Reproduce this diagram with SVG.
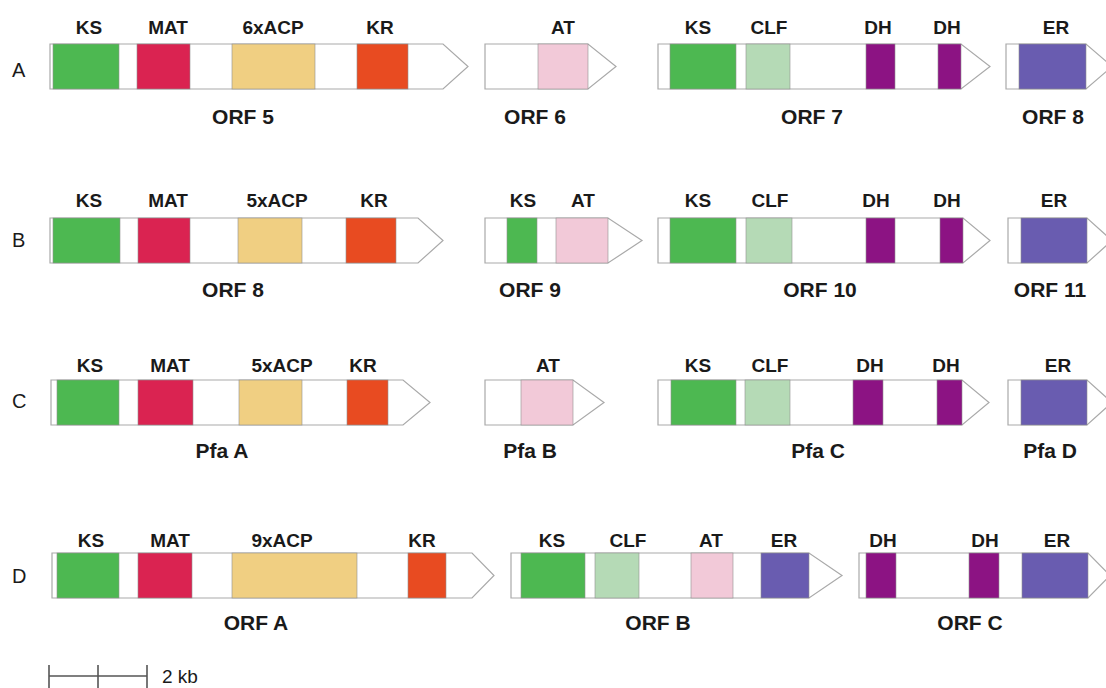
<svg xmlns="http://www.w3.org/2000/svg" width="1106" height="688" viewBox="0 0 1106 688">
  <style>
    .bg { fill: #ffffff; }
    .orf { fill: #ffffff; stroke: #a9a9a9; stroke-width: 1.2; stroke-linejoin: miter; }
    .dom { stroke: #8f8f8f; stroke-width: 0.6; }
    .ks { fill: #4db851; }
    .mat { fill: #da2351; }
    .acp { fill: #f0cf82; }
    .kr { fill: #e84b21; }
    .at { fill: #f2c9d8; }
    .clf { fill: #b5dab6; }
    .dh { fill: #8c1383; }
    .er { fill: #695cb0; }
    .lbl { font-family: "Liberation Sans", Arial, sans-serif; font-weight: bold; font-size: 19px; fill: #1a1a1a; text-anchor: middle; }
    .name { font-family: "Liberation Sans", Arial, sans-serif; font-weight: bold; font-size: 21px; fill: #1a1a1a; text-anchor: middle; }
    .row { font-family: "Liberation Sans", Arial, sans-serif; font-size: 20px; fill: #1a1a1a; }
    .scale { stroke: #555555; stroke-width: 1.6; fill: none; }
    .kb { font-family: "Liberation Sans", Arial, sans-serif; font-size: 19px; fill: #1a1a1a; }
  </style>
  <rect class="bg" x="0" y="0" width="1106" height="688"/>

  <!-- Row labels -->
  <g id="row-labels">
    <text class="row" x="12" y="77">A</text>
    <text class="row" x="12" y="247">B</text>
    <text class="row" x="12" y="408">C</text>
    <text class="row" x="12" y="583">D</text>
  </g>

  <!-- ===== Row A (box y 44..89) ===== -->
  <g id="orf5">
    <polygon class="orf" points="50,44 443,44 468,66.5 443,89 50,89"/>
    <rect class="dom ks" x="53" y="44" width="66" height="45"/>
    <rect class="dom mat" x="137" y="44" width="53" height="45"/>
    <rect class="dom acp" x="232" y="44" width="83" height="45"/>
    <rect class="dom kr" x="357" y="44" width="51" height="45"/>
    <text class="lbl" x="89" y="34">KS</text>
    <text class="lbl" x="168" y="34">MAT</text>
    <text class="lbl" x="273" y="34">6xACP</text>
    <text class="lbl" x="380" y="34">KR</text>
    <text class="name" x="243" y="124">ORF 5</text>
  </g>
  <g id="orf6">
    <polygon class="orf" points="485,44 588,44 616,66.5 588,89 485,89"/>
    <rect class="dom at" x="538" y="44" width="50" height="45"/>
    <text class="lbl" x="563" y="34">AT</text>
    <text class="name" x="535" y="124">ORF 6</text>
  </g>
  <g id="orf7">
    <polygon class="orf" points="658,44 961,44 990,66.5 961,89 658,89"/>
    <rect class="dom ks" x="670" y="44" width="66" height="45"/>
    <rect class="dom clf" x="746" y="44" width="44" height="45"/>
    <rect class="dom dh" x="866" y="44" width="29" height="45"/>
    <rect class="dom dh" x="938" y="44" width="23" height="45"/>
    <text class="lbl" x="698" y="34">KS</text>
    <text class="lbl" x="769" y="34">CLF</text>
    <text class="lbl" x="878" y="34">DH</text>
    <text class="lbl" x="947" y="34">DH</text>
    <text class="name" x="812" y="124">ORF 7</text>
  </g>
  <g id="orf8-a">
    <polygon class="orf" points="1006,44 1086,44 1112,66.5 1086,89 1006,89"/>
    <rect class="dom er" x="1019" y="44" width="67" height="45"/>
    <text class="lbl" x="1056" y="34">ER</text>
    <text class="name" x="1053" y="124">ORF 8</text>
  </g>

  <!-- ===== Row B (box y 218..263) ===== -->
  <g id="orf8-b">
    <polygon class="orf" points="50,218 418,218 443,240.5 418,263 50,263"/>
    <rect class="dom ks" x="53" y="218" width="67" height="45"/>
    <rect class="dom mat" x="138" y="218" width="52" height="45"/>
    <rect class="dom acp" x="238" y="218" width="64" height="45"/>
    <rect class="dom kr" x="346" y="218" width="50" height="45"/>
    <text class="lbl" x="89" y="207">KS</text>
    <text class="lbl" x="168" y="207">MAT</text>
    <text class="lbl" x="277" y="207">5xACP</text>
    <text class="lbl" x="374" y="207">KR</text>
    <text class="name" x="233" y="297">ORF 8</text>
  </g>
  <g id="orf9">
    <polygon class="orf" points="485,218 608,218 642,240.5 608,263 485,263"/>
    <rect class="dom ks" x="507" y="218" width="30" height="45"/>
    <rect class="dom at" x="556" y="218" width="52" height="45"/>
    <text class="lbl" x="523" y="207">KS</text>
    <text class="lbl" x="583" y="207">AT</text>
    <text class="name" x="530" y="297">ORF 9</text>
  </g>
  <g id="orf10">
    <polygon class="orf" points="658,218 963,218 990,240.5 963,263 658,263"/>
    <rect class="dom ks" x="670" y="218" width="66" height="45"/>
    <rect class="dom clf" x="746" y="218" width="46" height="45"/>
    <rect class="dom dh" x="866" y="218" width="29" height="45"/>
    <rect class="dom dh" x="940" y="218" width="23" height="45"/>
    <text class="lbl" x="698" y="207">KS</text>
    <text class="lbl" x="770" y="207">CLF</text>
    <text class="lbl" x="876" y="207">DH</text>
    <text class="lbl" x="947" y="207">DH</text>
    <text class="name" x="820" y="297">ORF 10</text>
  </g>
  <g id="orf11">
    <polygon class="orf" points="1008,218 1087,218 1112,240.5 1087,263 1008,263"/>
    <rect class="dom er" x="1021" y="218" width="66" height="45"/>
    <text class="lbl" x="1054" y="207">ER</text>
    <text class="name" x="1050" y="297">ORF 11</text>
  </g>

  <!-- ===== Row C (box y 380..425) ===== -->
  <g id="pfaA">
    <polygon class="orf" points="51,380 403,380 430,402.5 403,425 51,425"/>
    <rect class="dom ks" x="57" y="380" width="62" height="45"/>
    <rect class="dom mat" x="138" y="380" width="55" height="45"/>
    <rect class="dom acp" x="239" y="380" width="63" height="45"/>
    <rect class="dom kr" x="347" y="380" width="41" height="45"/>
    <text class="lbl" x="90" y="372">KS</text>
    <text class="lbl" x="170" y="372">MAT</text>
    <text class="lbl" x="282" y="372">5xACP</text>
    <text class="lbl" x="363" y="372">KR</text>
    <text class="name" x="222" y="458">Pfa A</text>
  </g>
  <g id="pfaB">
    <polygon class="orf" points="485,380 573,380 604,402.5 573,425 485,425"/>
    <rect class="dom at" x="521" y="380" width="52" height="45"/>
    <text class="lbl" x="548" y="372">AT</text>
    <text class="name" x="530" y="458">Pfa B</text>
  </g>
  <g id="pfaC">
    <polygon class="orf" points="658,380 962,380 989,402.5 962,425 658,425"/>
    <rect class="dom ks" x="671" y="380" width="65" height="45"/>
    <rect class="dom clf" x="745" y="380" width="45" height="45"/>
    <rect class="dom dh" x="853" y="380" width="30" height="45"/>
    <rect class="dom dh" x="937" y="380" width="25" height="45"/>
    <text class="lbl" x="698" y="372">KS</text>
    <text class="lbl" x="770" y="372">CLF</text>
    <text class="lbl" x="870" y="372">DH</text>
    <text class="lbl" x="946" y="372">DH</text>
    <text class="name" x="818" y="458">Pfa C</text>
  </g>
  <g id="pfaD">
    <polygon class="orf" points="1008,380 1087,380 1112,402.5 1087,425 1008,425"/>
    <rect class="dom er" x="1021" y="380" width="66" height="45"/>
    <text class="lbl" x="1058" y="372">ER</text>
    <text class="name" x="1050" y="458">Pfa D</text>
  </g>

  <!-- ===== Row D (box y 553..598) ===== -->
  <g id="orfA">
    <polygon class="orf" points="52,553 472,553 494,575.5 472,598 52,598"/>
    <rect class="dom ks" x="57" y="553" width="62" height="45"/>
    <rect class="dom mat" x="138" y="553" width="54" height="45"/>
    <rect class="dom acp" x="232" y="553" width="125" height="45"/>
    <rect class="dom kr" x="408" y="553" width="38" height="45"/>
    <text class="lbl" x="91" y="547">KS</text>
    <text class="lbl" x="170" y="547">MAT</text>
    <text class="lbl" x="282" y="547">9xACP</text>
    <text class="lbl" x="422" y="547">KR</text>
    <text class="name" x="256" y="630">ORF A</text>
  </g>
  <g id="orfB">
    <polygon class="orf" points="511,553 809,553 842,575.5 809,598 511,598"/>
    <rect class="dom ks" x="521" y="553" width="64" height="45"/>
    <rect class="dom clf" x="595" y="553" width="44" height="45"/>
    <rect class="dom at" x="691" y="553" width="42" height="45"/>
    <rect class="dom er" x="761" y="553" width="48" height="45"/>
    <text class="lbl" x="552" y="547">KS</text>
    <text class="lbl" x="628" y="547">CLF</text>
    <text class="lbl" x="711" y="547">AT</text>
    <text class="lbl" x="784" y="547">ER</text>
    <text class="name" x="658" y="630">ORF B</text>
  </g>
  <g id="orfC">
    <polygon class="orf" points="859,553 1088,553 1110,575.5 1088,598 859,598"/>
    <rect class="dom dh" x="866" y="553" width="30" height="45"/>
    <rect class="dom dh" x="969" y="553" width="30" height="45"/>
    <rect class="dom er" x="1022" y="553" width="66" height="45"/>
    <text class="lbl" x="883" y="547">DH</text>
    <text class="lbl" x="985" y="547">DH</text>
    <text class="lbl" x="1057" y="547">ER</text>
    <text class="name" x="970" y="630">ORF C</text>
  </g>

  <!-- Scale bar: 2 kb -->
  <g id="scale-bar">
    <line class="scale" x1="49" y1="676" x2="147" y2="676"/>
    <line class="scale" x1="49" y1="665" x2="49" y2="688"/>
    <line class="scale" x1="98" y1="665" x2="98" y2="688"/>
    <line class="scale" x1="147" y1="665" x2="147" y2="688"/>
    <text class="kb" x="162" y="683">2 kb</text>
  </g>

  <!-- No connectors in this figure -->
  <g id="connectors"/>
</svg>
